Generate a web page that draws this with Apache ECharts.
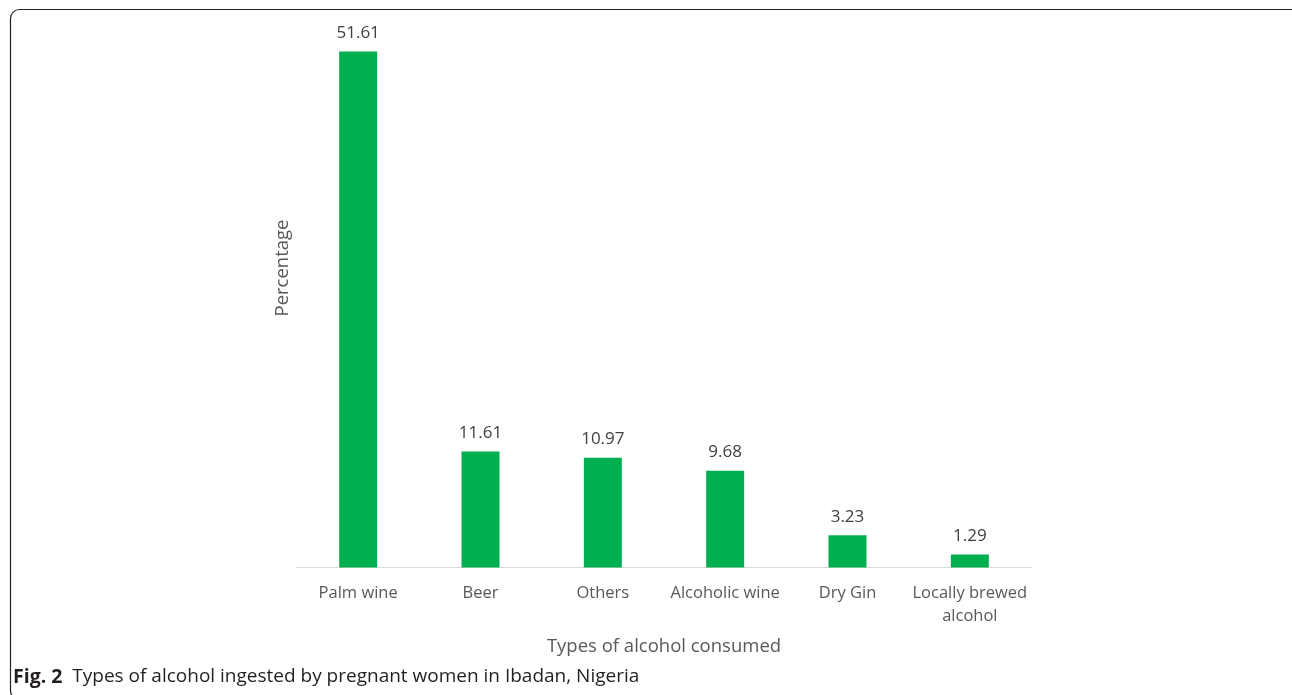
<!DOCTYPE html>
<html>
<head>
<meta charset="utf-8">
<script src="https://cdn.jsdelivr.net/npm/echarts@6/dist/echarts.min.js"></script>
<style>
html,body{margin:0;padding:0;background:#fff;}
#chart{width:1292px;height:695px;}
</style>
</head>
<body>
<div id="chart"></div>
<script>
const categories = ['Palm wine', 'Beer', 'Others', 'Alcoholic wine', 'Dry Gin', 'Locally brewed\nalcohol'];
const values = [51.61, 11.61, 10.97, 9.68, 3.23, 1.29];
const xAxisTitle = 'Types of alcohol consumed';
const yAxisTitle = 'Percentage';
const captionBold = 'Fig. 2';
const captionText = 'Types of alcohol ingested by pregnant women in Ibadan, Nigeria';

const font = '"Open Sans", "Noto Sans", sans-serif';
const chart = echarts.init(document.getElementById('chart'), null, {renderer: 'canvas'});
chart.setOption({
  animation: false,
  backgroundColor: '#ffffff',
  textStyle: {fontFamily: font},
  grid: {left: 297, right: 261, top: 17.5, bottom: 127.5, containLabel: false},
  xAxis: {
    type: 'category',
    data: categories,
    axisLine: {show: true, lineStyle: {color: '#d9d9d9', width: 1}},
    axisTick: {show: false},
    axisLabel: {color: '#595959', fontSize: 16.5, fontFamily: font, margin: 14, lineHeight: 23, interval: 0},
    name: xAxisTitle,
    nameLocation: 'middle',
    nameGap: 70,
    nameTextStyle: {color: '#595959', fontSize: 18.5, fontFamily: font}
  },
  yAxis: {
    type: 'value',
    min: 0,
    max: 55,
    axisLine: {show: false},
    axisTick: {show: false},
    axisLabel: {show: false},
    splitLine: {show: false}
  },
  series: [{
    type: 'bar',
    data: values,
    barWidth: 38,
    itemStyle: {color: '#00b050'},
    label: {
      show: true,
      position: 'top',
      distance: 10,
      color: '#404040',
      fontSize: 17,
      fontFamily: font,
      formatter: p => p.value.toFixed(2)
    }
  }],
  graphic: [
    {
      type: 'rect',
      shape: {x: 10.5, y: 9.5, width: 1290, height: 690, r: 9},
      style: {fill: 'none', stroke: '#231f20', lineWidth: 1.2},
      silent: true
    },
    {
      type: 'text',
      x: 283,
      y: 268,
      rotation: Math.PI / 2,
      style: {
        text: yAxisTitle,
        fontSize: 18.5,
        fontFamily: font,
        fill: '#595959',
        align: 'center',
        verticalAlign: 'middle'
      }
    },
    {
      type: 'text',
      left: 13,
      top: 667,
      style: {
        text: '{b|' + captionBold + '}  ' + captionText,
        rich: {b: {fontWeight: 'bold', fontSize: 19.5, fontFamily: font, fill: '#231f20'}},
        fontSize: 19,
        fontFamily: font,
        fill: '#231f20'
      }
    }
  ]
});
</script>
</body>
</html>
